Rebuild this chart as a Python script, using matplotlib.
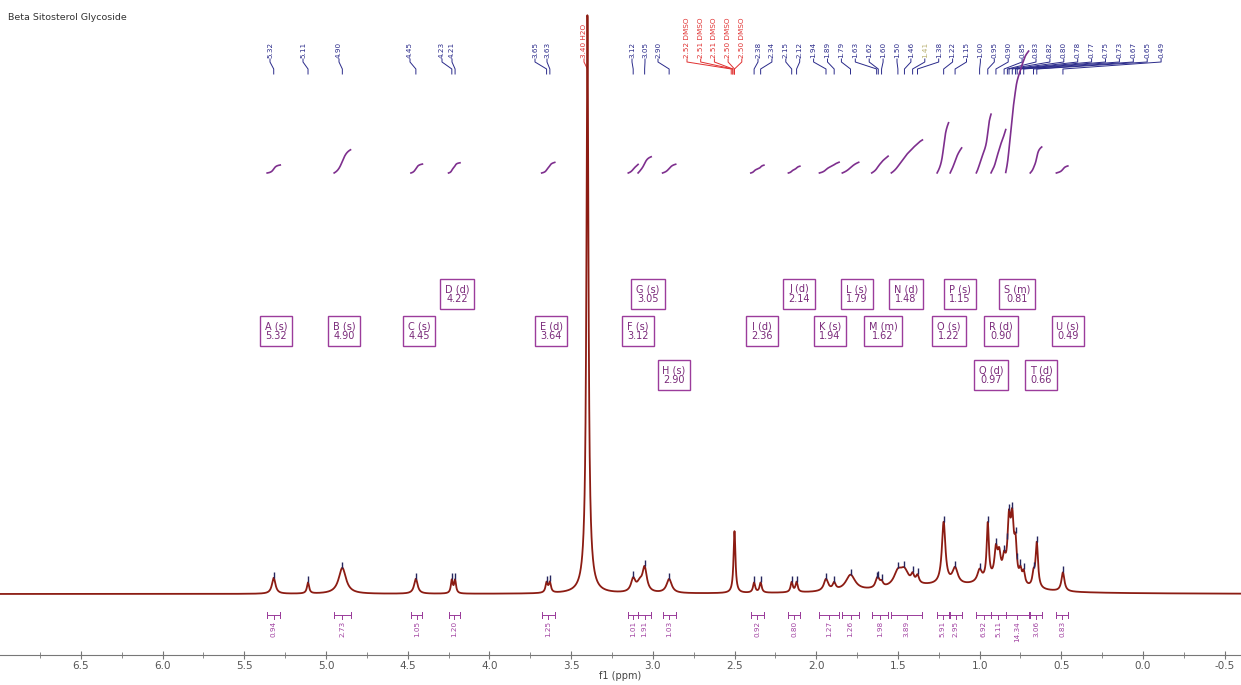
import numpy as np
import matplotlib
matplotlib.use('Agg')
import matplotlib.pyplot as plt
from matplotlib.transforms import offset_copy

# --- spectrum: peak positions (ppm), heights (arb.), half widths (ppm)
peak_ppm = [5.32, 5.11, 4.90, 4.45, 4.23, 4.21, 3.65, 3.63, 3.40, 3.40,
            3.12, 3.08, 3.05, 2.90, 2.50, 2.38, 2.34, 2.15, 2.12, 1.94,
            1.89, 1.79, 1.63, 1.62, 1.60, 1.50, 1.46, 1.41, 1.38, 1.22,
            1.15, 1.00, 0.95, 0.90, 0.88, 0.85, 0.82, 0.80, 0.78, 0.75,
            0.73, 0.67, 0.65, 0.49, 1.30, 0.90]
peak_height = [16, 11, 26, 15, 13, 13, 10, 10, 545, 35,
               13, 8, 24, 14, 62, 10, 10, 10, 10, 12,
               7, 16, 6, 6, 5, 14, 14, 8, 8, 62,
               16, 12, 56, 28, 22, 18, 56, 56, 33, 12,
               12, 12, 45, 19, 7, 9]
peak_hwhm = [0.013, 0.008, 0.027, 0.013, 0.007, 0.007, 0.008, 0.008, 0.007, 0.025,
             0.016, 0.02, 0.016, 0.019, 0.007, 0.008, 0.008, 0.008, 0.008, 0.016,
             0.011, 0.035, 0.011, 0.011, 0.011, 0.03, 0.03, 0.011, 0.011, 0.013,
             0.02, 0.016, 0.008, 0.011, 0.011, 0.011, 0.011, 0.011, 0.009, 0.009,
             0.009, 0.009, 0.009, 0.011, 0.35, 0.15]

# --- picked peaks
blue_peaks = [5.32, 5.11, 4.90, 4.45, 4.23, 4.21, 3.65, 3.63, 3.12, 3.05, 2.90,
              2.38, 2.34, 2.15, 2.12, 1.94, 1.89, 1.79, 1.63, 1.62, 1.60,
              1.50, 1.46, 1.41, 1.38, 1.22, 1.15, 1.00, 0.95, 0.90, 0.85,
              0.83, 0.82, 0.80, 0.78, 0.77, 0.75, 0.73, 0.67, 0.65, 0.49]
solvent_peaks = [3.40, 2.52, 2.51, 2.51, 2.50, 2.50]
solvent_names = ['H2O', 'DMSO', 'DMSO', 'DMSO', 'DMSO', 'DMSO']

# --- multiplets
mult_letter = list('ABCDEFGHIJKLMNOPQRSTU')
mult_type = ['s', 's', 's', 'd', 'd', 's', 's', 's', 'd', 'd', 's',
             's', 'm', 'd', 's', 's', 'd', 'd', 'm', 'd', 's']
mult_shift = [5.32, 4.90, 4.45, 4.22, 3.64, 3.12, 3.05, 2.90, 2.36, 2.14, 1.94,
              1.79, 1.62, 1.48, 1.22, 1.15, 0.97, 0.90, 0.81, 0.66, 0.49]
int_from = [5.36, 4.95, 4.48, 4.25, 3.68, 3.15, 3.09, 2.94, 2.40, 2.17, 1.98,
            1.84, 1.66, 1.54, 1.26, 1.18, 1.02, 0.93, 0.84, 0.69, 0.53]
int_to = [5.28, 4.85, 4.41, 4.18, 3.60, 3.09, 3.01, 2.86, 2.32, 2.10, 1.86,
          1.74, 1.56, 1.35, 1.19, 1.11, 0.93, 0.84, 0.70, 0.62, 0.46]
int_value = [0.94, 2.73, 1.05, 1.20, 1.25, 1.01, 1.91, 1.03, 0.92, 0.80, 1.27,
             1.26, 1.98, 3.89, 5.91, 2.95, 6.92, 5.11, 14.34, 3.06, 0.83]

# layout (pixels)
box_x = [276, 344, 419, 457, 551, 638, 648, 674, 762, 799, 830,
         857, 883, 906, 949, 960, 991, 1001, 1017, 1041, 1068]
box_y = [331, 331, 331, 294, 331, 331, 294, 375, 331, 294, 331,
         294, 331, 294, 331, 294, 375, 331, 294, 375, 331]
blue_label_x = [270, 303, 339, 410, 442, 452, 535, 547, 632, 645, 658] + \
               [758 + 13.9 * i for i in range(30)]
solvent_label_x = [584] + [687 + 13.7 * i for i in range(5)]

W, H = 1241, 685
X0, PPM_PX = 1143, 163.4
xlim = (X0 / PPM_PX, (X0 - W) / PPM_PX)


def px2ppm(px):
    return (X0 - px) / PPM_PX


def spec_at(x):
    x = np.atleast_1d(x)
    out = np.zeros_like(x, dtype=float)
    for c, h, w in zip(peak_ppm, peak_height, peak_hwhm):
        out += h * w**2 / ((x - c)**2 + w**2)
    return out


ppm = np.linspace(xlim[0], xlim[1], 8000)
spec = spec_at(ppm)

fig = plt.figure(figsize=(W / 100, H / 100), dpi=100)
ov = fig.add_axes([0, 0, 1, 1])
ov.set_xlim(xlim)
ov.set_ylim(H, 0)
ov.axis('off')

ax = fig.add_axes([0, 30 / H, 1, 655 / H])
ax.patch.set_alpha(0)
ax.set_xlim(xlim)
ax.set_ylim(-61, 594)
for s in ['top', 'left', 'right']:
    ax.spines[s].set_visible(False)
ax.spines['bottom'].set_color('#777777')
ax.set_yticks([])
ax.set_xticks(np.arange(6.5, -0.51, -0.5))
ax.set_xticks(np.arange(6.75, -0.6, -0.25), minor=True)
ax.set_xticklabels([f'{t:.1f}' for t in np.arange(6.5, -0.51, -0.5)])
ax.tick_params(axis='x', which='major', direction='inout', length=6, color='#777777',
               labelsize=7.5, labelcolor='#555555', pad=1.5)
ax.tick_params(axis='x', which='minor', direction='inout', length=4, color='#777777')
ax.set_xlabel('f1 (ppm)', fontsize=7, color='#444444', labelpad=0)

# spectrum
ax.plot(ppm, spec, color='#8c1c13', lw=1.3, zorder=5)
mark_y = spec_at(np.array(blue_peaks))
ax.plot(blue_peaks, mark_y, ls='none', marker='|', ms=4, mew=1, color='#26265e',
        transform=offset_copy(ax.transData, fig, y=3, units='dots'), zorder=6)

fig.text(8 / W, 1 - 18 / H, 'Beta Sitosterol Glycoside', fontsize=6.8, color='#333333',
         va='center', ha='left')


# peak labels
def draw_label(p, lx, text, color, lcolor):
    x = px2ppm(lx)
    ov.text(x, 58, text, rotation=90, fontsize=5.2, color=color, ha='center', va='bottom')
    ov.plot([x, x, p, p], [59, 62, 69, 74], color=lcolor, lw=0.7)


for p, lx in zip(blue_peaks, blue_label_x):
    col = '#b8b070' if p == 1.41 else '#2a2a8a'
    draw_label(p, lx, f'{p:.2f}', col, '#2a2a8a')
for p, lx, n in zip(solvent_peaks, solvent_label_x, solvent_names):
    draw_label(p, lx, f'{p:.2f} {n}', '#e03030', '#e03030')

# integrals
K = 8.5
for a, b, v in zip(int_from, int_to, int_value):
    xs = np.linspace(a, b, 200)
    cum = np.cumsum(spec_at(xs))
    cum = cum / cum[-1]
    ov.plot(xs, 173 - cum * v * K, color='#7e2f8e', lw=1.2)
    ov.plot([a, a, a, b, b, b], [612, 618, 615, 615, 612, 618], color='#9a3b9a', lw=0.7)
    m = (a + b) / 2
    ov.plot([m, m], [615, 619], color='#9a3b9a', lw=0.7)
    ov.text(m, 621, f'{v:.2f}', rotation=90, fontsize=5.2, color='#a040a0',
            ha='center', va='top')

# multiplet boxes
for L, t, sft, bx, by in zip(mult_letter, mult_type, mult_shift, box_x, box_y):
    ov.text(px2ppm(bx), by, f'{L} ({t})\n{sft:.2f}', fontsize=7, color='#7a2a7a',
            ha='center', va='center', linespacing=1.0,
            bbox=dict(boxstyle='square,pad=0.5', fc='white', ec='#9b3c9b', lw=1.0))

fig.savefig('out.png', dpi=100)
